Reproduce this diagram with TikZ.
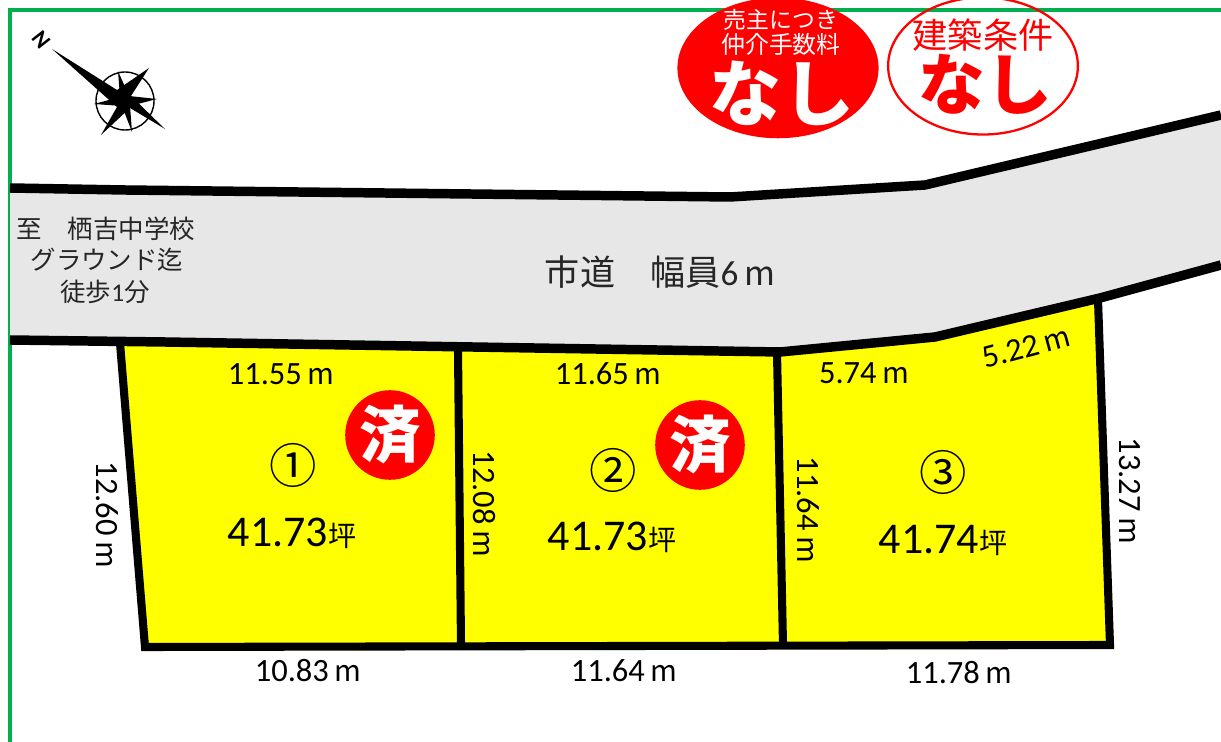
\documentclass[tikz,border=0pt]{standalone}
\usepackage{fontspec}
\usetikzlibrary{shapes.geometric}
\setmainfont{Carlito}
\newfontfamily\jpfont{Noto Sans CJK JP}
\newcommand{\jpbold}{\jpfont\bfseries}
\definecolor{frameg}{RGB}{0,176,80}
\definecolor{roadg}{RGB}{231,231,231}
\definecolor{stampr}{RGB}{255,0,0}
\definecolor{loty}{RGB}{255,255,0}
\newcommand{\mm}{{\jpfont\fontsize{16.5}{16}\selectfont m}}
\tikzset{
	plan/.style={x=0.02cm,y=-0.02cm},
	bound/.style={line width=4.6pt,line join=miter,draw=black},
	roadline/.style={line width=5.4pt,line join=miter,draw=black},
	dimlabel/.style={font=\fontsize{18.5}{20}\selectfont,inner sep=0pt},
	arealabel/.style={font=\fontsize{25}{27}\selectfont,inner sep=0pt},
	lotno/.style={font=\jpfont\fontsize{27}{29}\selectfont,inner sep=0pt},
	roadlabel/.style={font=\jpfont\fontsize{14.5}{16}\selectfont,inner sep=0pt,text=black!85},
	sold/.style={circle,fill=stampr,minimum size=51pt,inner sep=0pt,text=white,font=\jpbold\fontsize{35}{37}\selectfont},
}
\newcommand{\tsubo}{{\jpfont\fontsize{16}{16}\selectfont 坪}}
\begin{document}
\begin{tikzpicture}[plan]
	\useasboundingbox (0,0) rectangle (1221,742);
	\clip (0,0) rectangle (1221,742);
	% cadre vert
	\draw[frameg, line width=1.8pt] (10,742) -- (10,10) -- (1221,10);
	% la route
	\coordinate (r1) at (10,188);
	\coordinate (r2) at (125,190);
	\coordinate (r3) at (730,197);
	\coordinate (r4) at (925,185);
	\coordinate (r5) at (1221,115);
	\coordinate (s1) at (10,340);
	\coordinate (s2) at (165,342);
	\coordinate (s3) at (780,352);
	\coordinate (s4) at (935,337);
	\coordinate (s5) at (1100,298);
	\coordinate (s6) at (1221,265);
	\fill[roadg] (r1) -- (r2) -- (r3) -- (r4) -- (r5) -- (s6) -- (s5) -- (s4) -- (s3) -- (s2) -- (s1) -- cycle;
	% les lots
	\coordinate (a) at (120,343);
	\coordinate (b) at (145,647);
	\coordinate (c) at (1110,645);
	\coordinate (d) at (1098,300);
	\coordinate (e) at (458,350);
	\coordinate (f) at (461,645);
	\coordinate (g) at (777,353);
	\coordinate (h) at (783,645);
	\fill[loty] (a) -- (e) -- (g) -- (s4) -- (d) -- (c) -- (b) -- cycle;
	\draw[roadline] (r1) -- (r2) -- (r3) -- (r4) -- (r5);
	\draw[roadline] (s1) -- (s2) -- (s3) -- (s4) -- (s5) -- (s6);
	\draw[bound] (a) -- (b) -- (c) -- (d);
	\draw[bound] (e) -- (f) (g) -- (h);
	% la boussole
	\coordinate (o) at (125,101);
	\draw[line width=0.8pt] (o) circle (29);
	\fill (52,49) -- (117,90) -- (149,68) -- (131,96) -- (165,129) -- (130,108) -- (101,135) -- (117,107) -- cycle;
	\fill (118,71) -- (129,96) -- (157,99) -- (130,106) -- (132,132) -- (122,106) -- (94,104) -- (120,97) -- cycle;
	\node[rotate=-52, inner sep=0pt, font=\bfseries\fontsize{13}{13}\selectfont] (north) at (41,40) {N};
	% les tampons
	\node[ellipse, fill=stampr, minimum width=114.5pt, minimum height=80pt, inner sep=0pt] (fee) at (778,68) {};
	\node[text=white, inner sep=0pt, font=\jpfont\fontsize{13}{13}\selectfont] (feea) at (781,20) {売主につき};
	\node[text=white, inner sep=0pt, font=\jpfont\fontsize{13.6}{14}\selectfont] (feeb) at (781,44) {仲介手数料};
	\node[text=white, inner sep=0pt, font=\jpbold\fontsize{41}{41}\selectfont] (feec) at (782,93) {なし};
	\node[ellipse, draw=stampr, line width=1.3pt, minimum width=108pt, minimum height=78pt, inner sep=0pt] (cond) at (983,66) {};
	\node[text=stampr, inner sep=0pt, font=\jpfont\fontsize{20}{20}\selectfont] (conda) at (983,35) {建築条件};
	\node[text=stampr, inner sep=0pt, font=\jpbold\fontsize{38}{38}\selectfont] (condb) at (985,84) {なし};
	% textes de la route
	\node[roadlabel] (to1) at (106,229) {至　栖吉中学校};
	\node[roadlabel] (to2) at (107,260) {グラウンド迄};
	\node[roadlabel] (to3) at (105,292) {徒歩{\fontspec{Carlito}1}分};
	\node[inner sep=0pt, text=black!85, font=\jpfont\fontsize{20}{22}\selectfont] (road) at (660,272) {市道　幅員{\fontspec{Carlito}6\,}{\fontsize{19}{19}\selectfont m}};
	% les cotes
	\node[dimlabel] (d1) at (281,374) {11.55\,\mm};
	\node[dimlabel] (d2) at (608,374) {11.65\,\mm};
	\node[dimlabel] (d3) at (864,373) {5.74\,\mm};
	\node[dimlabel, rotate=15] (d4) at (1026,347) {5.22\,\mm};
	\node[dimlabel] (d5) at (308,671) {10.83\,\mm};
	\node[dimlabel] (d6) at (624,671) {11.64\,\mm};
	\node[dimlabel] (d7) at (959,673) {11.78\,\mm};
	\node[dimlabel, rotate=-90] (d8) at (107,515) {12.60\,\mm};
	\node[dimlabel, rotate=-90] (d9) at (484,504) {12.08\,\mm};
	\node[dimlabel, rotate=-90] (d10) at (808,510) {11.64\,\mm};
	\node[dimlabel, rotate=-90] (d11) at (1130,491) {13.27\,\mm};
	% numeros et surfaces
	\node[lotno] (n1) at (293,465) {①};
	\node[lotno] (n2) at (613,470) {②};
	\node[lotno] (n3) at (943,472) {③};
	\node[arealabel] (s1a) at (292,533) {41.73\tsubo};
	\node[arealabel] (s2a) at (612,537) {41.73\tsubo};
	\node[arealabel] (s3a) at (943,540) {41.74\tsubo};
	\node[sold] (sold1) at (390,435) {済};
	\node[sold] (sold2) at (700,445) {済};
\end{tikzpicture}
\end{document}
